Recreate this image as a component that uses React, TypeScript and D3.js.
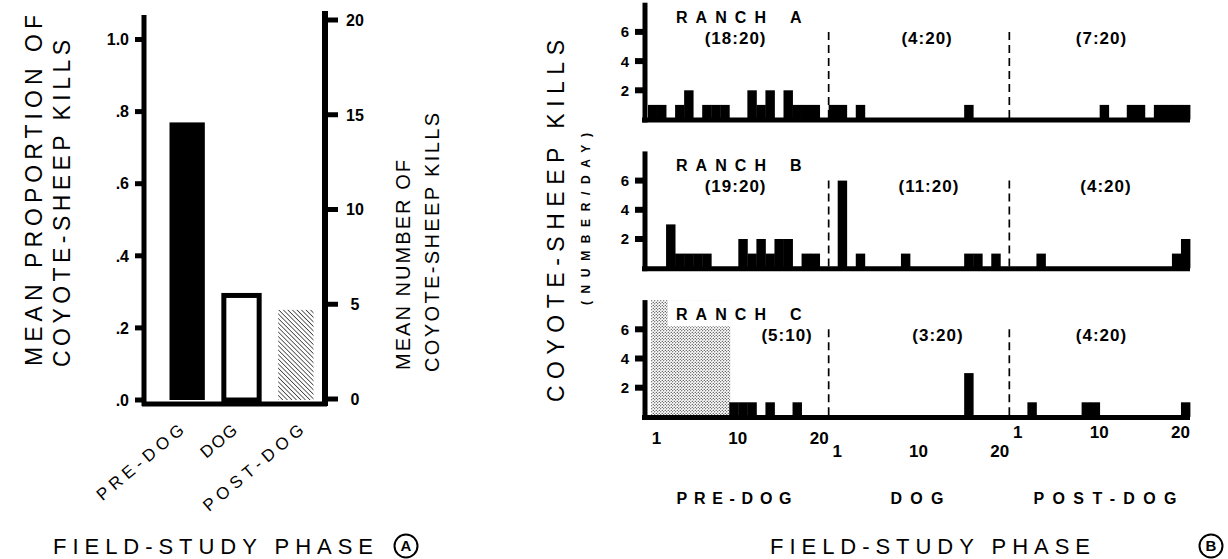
import * as d3 from 'd3';

// ---- Panel A data ----
const phases = ['PRE-DOG', 'DOG', 'POST-DOG'];
const meanProportion = [0.77, 0.29, 0.25];
const proportionTicks = [0, 0.2, 0.4, 0.6, 0.8, 1.0];
const proportionTickLabels = ['.0', '.2', '.4', '.6', '.8', '1.0'];
const numberTicks = [0, 5, 10, 15, 20];

// ---- Panel B data: kills per day, 20 days per phase (null = no data) ----
const ranchNames = ['A', 'B', 'C'];
const ranchAPre = [1, 1, 0, 1, 2, 0, 1, 1, 1, 0, 0, 2, 1, 2, 0, 2, 1, 1, 1, 0];
const ranchADog = [1, 1, 0, 1, 0, 0, 0, 0, 0, 0, 0, 0, 0, 0, 0, 1, 0, 0, 0, 0];
const ranchAPost = [0, 0, 0, 0, 0, 0, 0, 0, 0, 0, 1, 0, 0, 1, 1, 0, 1, 1, 1, 1];
const ranchBPre = [0, 0, 3, 1, 1, 1, 1, 0, 0, 0, 2, 1, 2, 1, 2, 2, 0, 1, 1, 0];
const ranchBDog = [0, 6, 0, 1, 0, 0, 0, 0, 1, 0, 0, 0, 0, 0, 0, 1, 1, 0, 1, 0];
const ranchBPost = [0, 0, 0, 1, 0, 0, 0, 0, 0, 0, 0, 0, 0, 0, 0, 0, 0, 0, 1, 2];
const ranchCPre = [null, null, null, null, null, null, null, null, null, 1, 1, 1, 0, 1, 0, 0, 1, 0, 0, 0];
const ranchCDog = [0, 0, 0, 0, 0, 0, 0, 0, 0, 0, 0, 0, 0, 0, 0, 3, 0, 0, 0, 0];
const ranchCPost = [0, 0, 1, 0, 0, 0, 0, 0, 1, 1, 0, 0, 0, 0, 0, 0, 0, 0, 0, 1];
const ranchARatios = ['(18:20)', '(4:20)', '(7:20)'];
const ranchBRatios = ['(19:20)', '(11:20)', '(4:20)'];
const ranchCRatios = ['(5:10)', '(3:20)', '(4:20)'];
const killTicks = [2, 4, 6];
const dayTicks = [1, 10, 20];

const ranches = [
  { name: ranchNames[0], phases: [ranchAPre, ranchADog, ranchAPost], ratios: ranchARatios },
  { name: ranchNames[1], phases: [ranchBPre, ranchBDog, ranchBPost], ratios: ranchBRatios },
  { name: ranchNames[2], phases: [ranchCPre, ranchCDog, ranchCPost], ratios: ranchCRatios },
];

const font = '"Liberation Sans", Arial, Helvetica, sans-serif';

export default function App() {
  // panel A scales
  const yProp = d3.scaleLinear().domain([0, 1]).range([400, 39.5]);
  const yNum = d3.scaleLinear().domain([0, 20]).range([399, 20]);
  const xPhase = d3.scaleBand().domain(phases).range([160, 323]).paddingInner(0.35).paddingOuter(0.175);
  const catDx = [-2, -3, 9];
  const catLen = [108, 42, 125];

  // panel B scales: continuous day index across the three phases
  const xDay = d3.scaleLinear().domain([0.5, 60.5]).range([648, 1190]);
  const step = xDay(1) - xDay(0);
  const rowY = (i: number) => d3.scaleLinear().domain([0, 8]).range([119.5 + i * 148.7, 119.5 + i * 148.7 - 8 * 14.6]);
  const ratioDay = [[10.2, 11.4, 10.7], [10.2, 11.6, 11.2], [15.9, 12.6, 10.7]];
  const dayLabelY = [444, 457, 438];
  const dayLabelDx = [4, 4, -5];

  return (
    <svg width={1228} height={559} style={{ position: 'absolute', left: 0, top: 0, background: '#fff' }}
      fontFamily={font}>
      <defs>
        <pattern id="hatch" patternUnits="userSpaceOnUse" width={3.2} height={3.2} patternTransform="rotate(-45)">
          <line x1={0} y1={0} x2={0} y2={3.2} stroke="#000" strokeWidth={1.2} />
        </pattern>
        <pattern id="stipple" patternUnits="userSpaceOnUse" width={3} height={3}>
          <circle cx={0.75} cy={0.75} r={0.6} fill="#000" />
          <circle cx={2.25} cy={2.25} r={0.6} fill="#000" />
        </pattern>
      </defs>

      {/* ===== Panel A ===== */}
      {phases.map((p, i) => (
        <rect key={p} x={xPhase(p)} width={xPhase.bandwidth()} y={yProp(meanProportion[i])}
          height={yProp(0) - yProp(meanProportion[i])}
          fill={i === 0 ? '#000' : i === 1 ? '#fff' : 'url(#hatch)'}
          stroke={i === 1 ? '#000' : 'none'} strokeWidth={5} />
      ))}
      <line x1={144} x2={144} y1={15} y2={406} stroke="#000" strokeWidth={5} />
      <line x1={325} x2={325} y1={11} y2={406} stroke="#000" strokeWidth={6} />
      <line x1={142} x2={327} y1={404} y2={404} stroke="#000" strokeWidth={5} />
      {proportionTicks.map((t, i) => (
        <g key={t}>
          <line x1={135} x2={146} y1={yProp(t)} y2={yProp(t)} stroke="#000" strokeWidth={5} />
          <text x={129} y={yProp(t)} dy="0.36em" textAnchor="end" fontSize={16} fontWeight="bold">
            {proportionTickLabels[i]}
          </text>
        </g>
      ))}
      {numberTicks.map(t => (
        <g key={t}>
          <line x1={323} x2={338} y1={yNum(t)} y2={yNum(t)} stroke="#000" strokeWidth={5} />
          <text x={355} y={yNum(t)} dy="0.36em" textAnchor="middle" fontSize={16} fontWeight="bold">{t}</text>
        </g>
      ))}
      {phases.map((p, i) => (
        <text key={p} transform={`translate(${xPhase(p)! + xPhase.bandwidth() / 2 + catDx[i]},432) rotate(-40)`}
          textAnchor="end" fontSize={17} textLength={catLen[i]} lengthAdjust="spacing">{p}</text>
      ))}
      <text transform="translate(42,366) rotate(-90)" fontSize={23} textLength={351} lengthAdjust="spacing">MEAN PROPORTION OF</text>
      <text transform="translate(70,367) rotate(-90)" fontSize={23} textLength={327} lengthAdjust="spacing">COYOTE-SHEEP KILLS</text>
      <text transform="translate(410,370) rotate(-90)" fontSize={20} textLength={210} lengthAdjust="spacing">MEAN NUMBER OF</text>
      <text transform="translate(439,372) rotate(-90)" fontSize={20} textLength={259} lengthAdjust="spacing">COYOTE-SHEEP KILLS</text>
      <text x={53} y={554} fontSize={22} textLength={320} lengthAdjust="spacing">FIELD-STUDY PHASE</text>
      <circle cx={406} cy={546} r={11.5} fill="none" stroke="#000" strokeWidth={2} />
      <text x={406} y={546} dy="0.36em" textAnchor="middle" fontSize={15} fontWeight="bold">A</text>

      {/* ===== Panel B ===== */}
      {ranches.map((r, ri) => {
        const y = rowY(ri);
        const noData = r.phases[0].map((v, d) => (v === null ? d + 1 : null)).filter(d => d !== null) as number[];
        return (
          <g key={r.name}>
            {noData.length > 0 && (
              <g>
                <rect x={xDay(noData[0] - 0.5) + 3} y={y(8)} width={xDay(noData[noData.length - 1] + 0.5) - xDay(noData[0] - 0.5) - 2}
                  height={y(0) - y(8)} fill="url(#stipple)" />
                <rect x={xDay(2.7)} y={y(8)} width={xDay(10.5) - xDay(2.7)} height={y(6.2) - y(8)} fill="#fff" />
              </g>
            )}
            {r.phases.map((vals, p) => vals.map((v, d) => (v && v > 0) ? (
              <rect key={`${p}-${d}`} x={xDay(p * 20 + d + 0.5)} width={step + 0.4} y={y(v)} height={y(0) - y(v)} fill="#000" />
            ) : null))}
            <line x1={645} x2={645} y1={y(8)} y2={y(0) + 3} stroke="#000" strokeWidth={5} />
            <line x1={642} x2={1190} y1={y(0) + 0.5} y2={y(0) + 0.5} stroke="#000" strokeWidth={5} />
            {killTicks.map(t => (
              <g key={t}>
                <line x1={635} x2={646} y1={y(t)} y2={y(t)} stroke="#000" strokeWidth={6} />
                <text x={629} y={y(t)} dy="0.36em" textAnchor="end" fontSize={15} fontWeight="bold">{t}</text>
              </g>
            ))}
            {[20.5, 40.5].map(b => (
              <line key={b} x1={xDay(b)} x2={xDay(b)} y1={y(6)} y2={y(0)} stroke="#000" strokeWidth={1.7} strokeDasharray="8 5" />
            ))}
            <text x={676} y={y(0) - 97} fontSize={16} fontWeight="bold" textLength={90} lengthAdjust="spacing">RANCH</text>
            <text x={790} y={y(0) - 97} fontSize={16} fontWeight="bold">{r.name}</text>
            {r.ratios.map((lab, p) => (
              <text key={p} x={xDay(p * 20 + ratioDay[ri][p])} y={y(0) - 76} textAnchor="middle" fontSize={17}
                fontWeight="bold" letterSpacing={1}>{lab}</text>
            ))}
          </g>
        );
      })}
      {phases.map((p, pi) => dayTicks.map((d, di) => (
        <text key={`${p}-${d}`} x={xDay(pi * 20 + d) + dayLabelDx[di]} y={dayLabelY[pi]} textAnchor="middle"
          fontSize={17} fontWeight="bold">{d}</text>
      )))}
      {phases.map((p, pi) => (
        <text key={p} x={[734, 917, 1105][pi]} y={504} textAnchor="middle" fontSize={16} fontWeight="bold"
          textLength={[115, 53, 143][pi]} lengthAdjust="spacing">{p}</text>
      ))}
      <text transform="translate(564,402) rotate(-90)" fontSize={23} textLength={362} lengthAdjust="spacing">COYOTE-SHEEP KILLS</text>
      <text transform="translate(590,305) rotate(-90)" fontSize={12} fontWeight="bold" textLength={172} lengthAdjust="spacing">(NUMBER/DAY)</text>
      <text x={770} y={554} fontSize={22} textLength={320} lengthAdjust="spacing">FIELD-STUDY PHASE</text>
      <circle cx={1211} cy={546} r={11.5} fill="none" stroke="#000" strokeWidth={2} />
      <text x={1211} y={546} dy="0.36em" textAnchor="middle" fontSize={15} fontWeight="bold">B</text>
    </svg>
  );
}
